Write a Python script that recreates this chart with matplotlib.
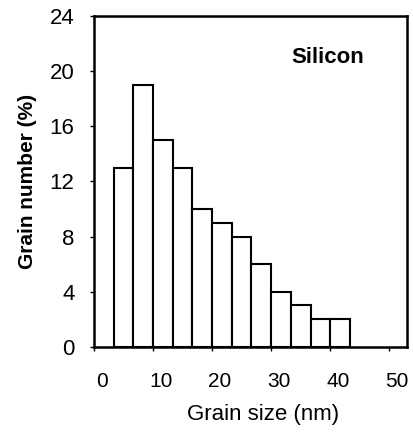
import numpy as np
import matplotlib.pyplot as plt
import matplotlib.transforms as mtransforms

plt.rcParams['font.family'] = ['Liberation Sans', 'DejaVu Sans']

# histogram bins (nm) and grain number (%)
bin_width = 10 / 3
bin_left = [10/3 * k for k in range(1, 13)]
grain_pct = [13, 19, 15, 13, 10, 9, 8, 6, 4, 3, 2, 2]

x_ticks = [0, 10, 20, 30, 40, 50]
y_ticks = [0, 4, 8, 12, 16, 20, 24]

fig = plt.figure(figsize=(4.14, 4.33), dpi=100)
ax = fig.add_axes([0.227, 0.199, 0.756, 0.764])

ax.bar(bin_left, grain_pct, width=bin_width, align='edge',
       color='white', edgecolor='black', linewidth=1.5)

ax.set_xlim(0, 53)
ax.set_ylim(0, 24)
ax.set_xticks(x_ticks)
ax.set_yticks(y_ticks)
ax.tick_params(direction='out', length=3, width=1)
ax.tick_params(axis='x', labelsize=15, pad=15)
ax.tick_params(axis='y', labelsize=16, pad=11)

# the x tick labels sit a little right of their ticks in the original
shift = mtransforms.ScaledTranslation(0.08, 0, fig.dpi_scale_trans)
for lbl in ax.get_xticklabels():
    lbl.set_transform(lbl.get_transform() + shift)

for s in ax.spines.values():
    s.set_linewidth(1.8)

ax.set_xlabel('Grain size (nm)', fontsize=16)
ax.xaxis.set_label_coords(0.54, -0.172)
ax.set_ylabel('Grain number (%)', fontsize=15, fontweight='bold', labelpad=9)
ax.text(39.5, 21, 'Silicon', fontsize=16, fontweight='bold',
        ha='center', va='center')

fig.savefig('out.png', dpi=100)
